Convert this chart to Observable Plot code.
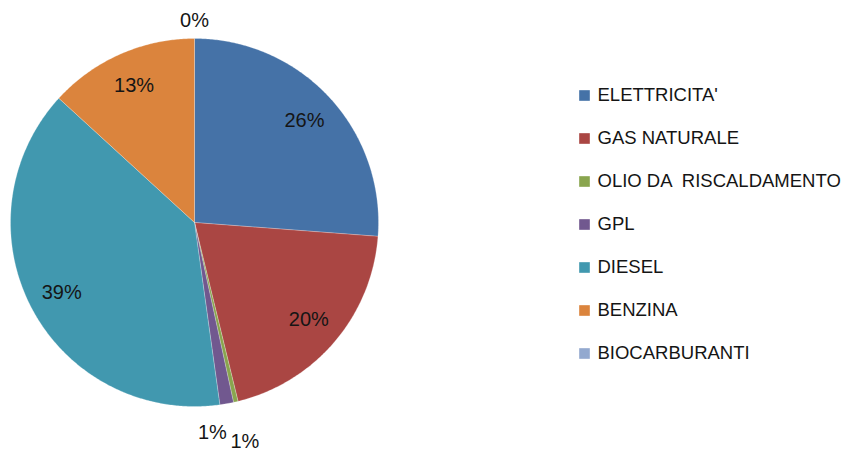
<!DOCTYPE html>
<html>
<head>
<meta charset="utf-8">
<script src="https://cdn.jsdelivr.net/npm/d3@7"></script>
<script src="https://cdn.jsdelivr.net/npm/@observablehq/plot@0.6"></script>
<style>
  html, body { margin: 0; padding: 0; background: #fff; }
  #wrap { position: relative; width: 844px; height: 451px; overflow: hidden; }
  #legend { position: absolute; left: 570px; top: 70px; }
  #legend text { white-space: pre; }
</style>
</head>
<body>
<div id="wrap"></div>
<script>
// ---- data ----
const categories = ["ELETTRICITA'", "GAS NATURALE", "OLIO DA  RISCALDAMENTO", "GPL", "DIESEL", "BENZINA", "BIOCARBURANTI"];
const shares = [26.2, 20.0, 0.4, 1.2, 39.0, 13.2, 0.0];
const pctLabels = ["26%", "20%", "1%", "1%", "39%", "13%", "0%"];
const colors = ["#4572A7", "#AA4643", "#89A54E", "#71588F", "#4198AF", "#DB843D", "#93A9CF"];

// ---- geometry (unit circle, angles clockwise from top) ----
const total = d3.sum(shares);
let acc = 0;
const slices = categories.map((c, i) => {
  const a0 = acc / total * 2 * Math.PI;
  acc += shares[i];
  const a1 = acc / total * 2 * Math.PI;
  return {cat: c, a0, a1, value: shares[i], label: pctLabels[i]};
});

const pts = [];
for (const s of slices) {
  if (s.a1 - s.a0 <= 0) continue;
  pts.push({cat: s.cat, x: 0, y: 0});
  const n = Math.max(2, Math.ceil((s.a1 - s.a0) / (Math.PI / 360)));
  for (let k = 0; k <= n; k++) {
    const a = s.a0 + (s.a1 - s.a0) * k / n;
    pts.push({cat: s.cat, x: Math.sin(a), y: Math.cos(a)});
  }
  pts.push({cat: s.cat, x: 0, y: 0});
}

// label layout: inside for big slices, outside for small ones
const labelPts = slices.map((s, i) => {
  let a = (s.a0 + s.a1) / 2;
  let rf = 0.815;
  if (s.value < 3) {
    rf = 1.10;
    const next = slices[i + 1];
    const prev = slices[i - 1];
    if (next && next.value < 3 && next.value > 0) rf = 1.222;
    if (prev && prev.value < 3 && s.value > 0) { rf = 1.146; a += 5.2 * Math.PI / 180; }
  }
  return {label: s.label, x: rf * Math.sin(a), y: rf * Math.cos(a)};
});

const cx = 194, cy = 222, R = 184;

const pie = Plot.plot({
  width: 844,
  height: 451,
  margin: 0,
  x: {domain: [-1, 1], range: [cx - R, cx + R], axis: null},
  y: {domain: [-1, 1], range: [cy + R, cy - R], axis: null},
  color: {domain: categories, range: colors},
  style: {background: "transparent"},
  marks: [
    Plot.line(pts, {x: "x", y: "y", z: "cat", fill: "cat", stroke: "#ffffff", strokeWidth: 0.4, strokeOpacity: 0.6, curve: "linear"}),
    Plot.text(labelPts, {x: "x", y: "y", text: "label", fill: "#151515", fontSize: 20, fontFamily: "Liberation Sans, Arial, sans-serif"})
  ]
});

const legend = Plot.plot({
  width: 274,
  height: 300,
  margin: 0,
  y: {type: "point", domain: categories, range: [25, 283], padding: 0, axis: null},
  color: {domain: categories, range: colors},
  style: {background: "transparent", overflow: "visible"},
  marks: [
    Plot.dot(categories, {y: d => d, frameAnchor: "left", dx: 14, symbol: "square", r: 6, fill: d => d, stroke: null}),
    Plot.text(categories, {y: d => d, frameAnchor: "left", dx: 27, text: d => d, textAnchor: "start", fill: "#151515", fontSize: 18.5, fontFamily: "Liberation Sans, Arial, sans-serif"})
  ]
});
legend.id = "legend";

const wrap = document.getElementById("wrap");
wrap.appendChild(pie);
wrap.appendChild(legend);
</script>
</body>
</html>
